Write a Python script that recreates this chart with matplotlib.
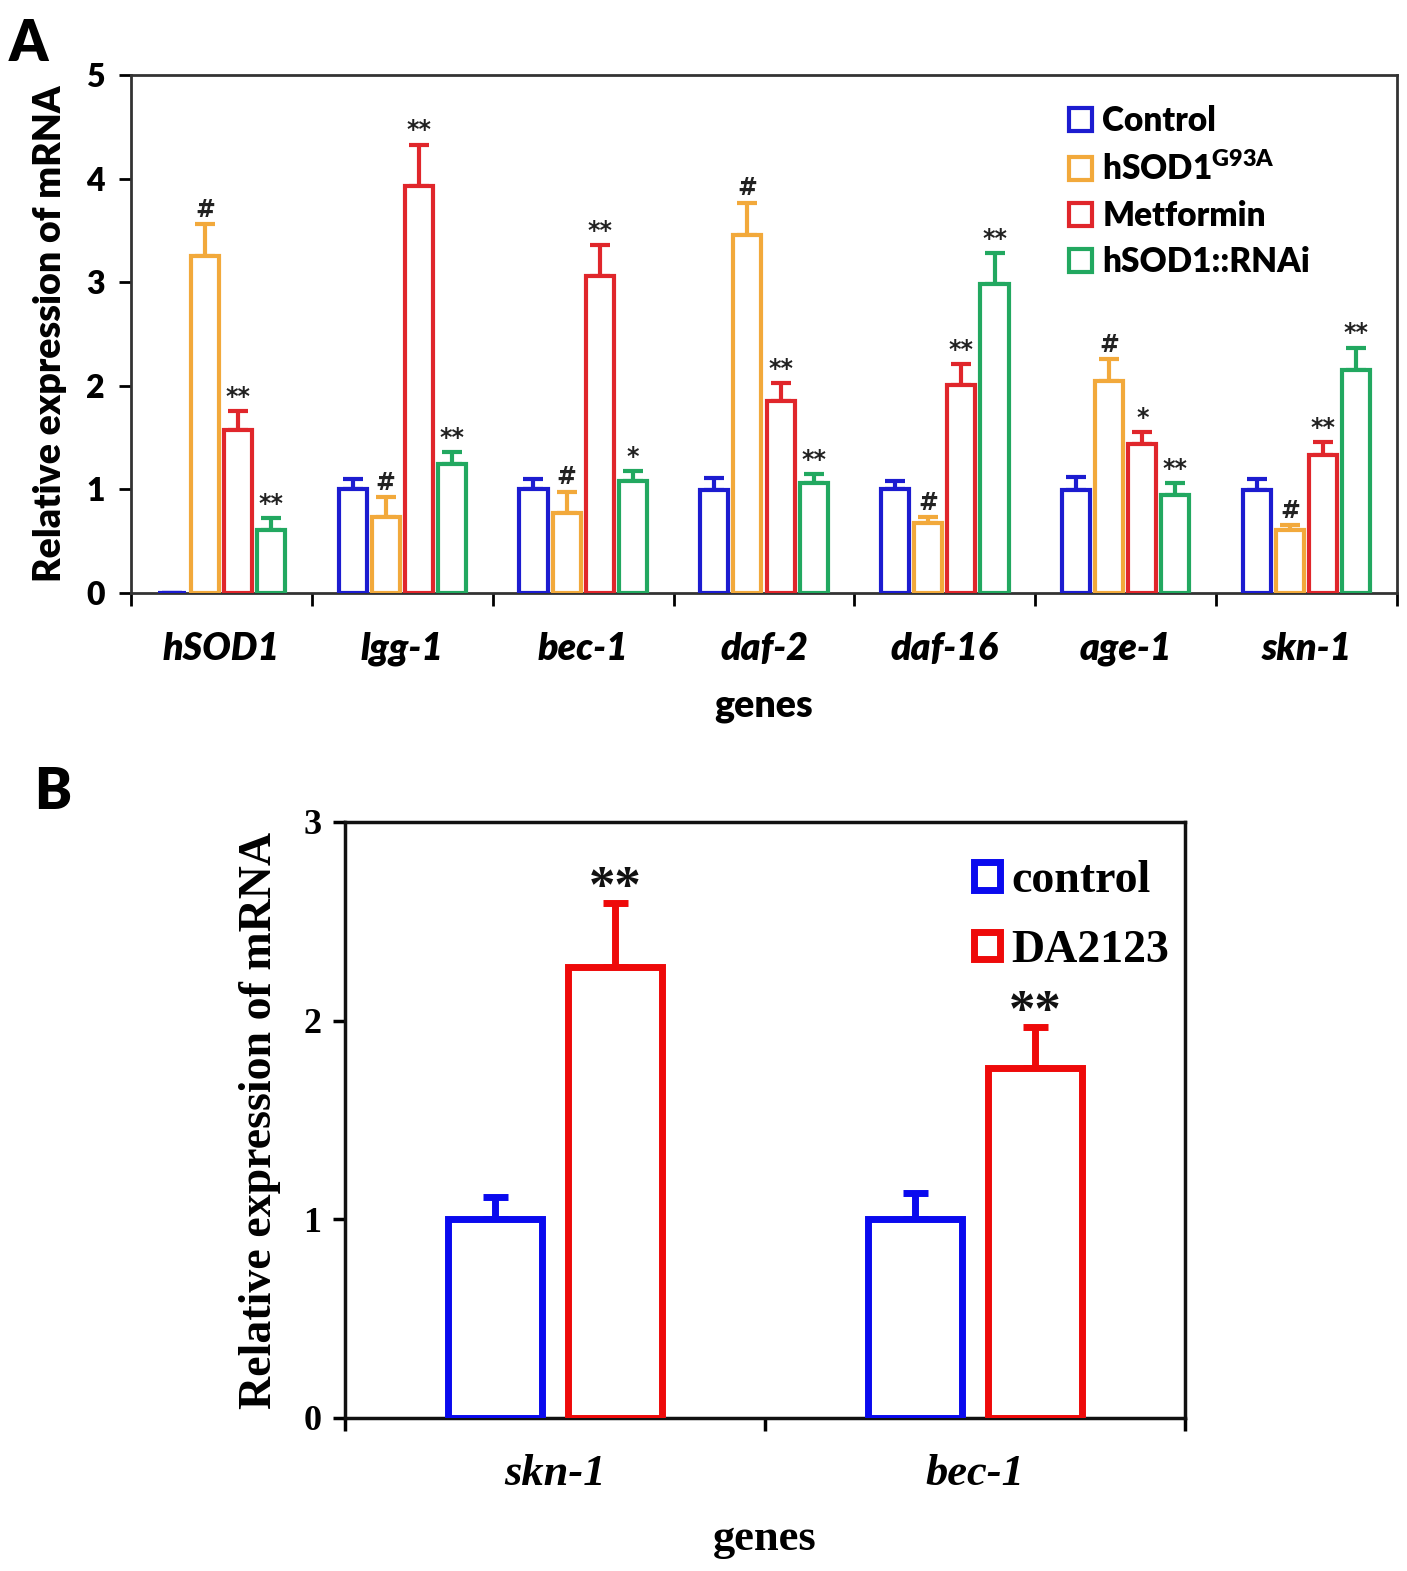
import numpy as np
import matplotlib.pyplot as plt

# Panel A data
genes_a = ["hSOD1", "lgg-1", "bec-1", "daf-2", "daf-16", "age-1", "skn-1"]
groups_a = ["Control", "hSOD1$^{\\mathregular{G93A}}$", "Metformin", "hSOD1::RNAi"]
control = [0.0, 1.00, 1.00, 0.99, 1.00, 0.99, 0.99]
control_err = [0.0, 0.10, 0.10, 0.12, 0.08, 0.13, 0.11]
g93a = [3.25, 0.73, 0.77, 3.46, 0.68, 2.05, 0.61]
g93a_err = [0.31, 0.20, 0.21, 0.31, 0.05, 0.21, 0.05]
metformin = [1.57, 3.93, 3.06, 1.85, 2.01, 1.44, 1.33]
metformin_err = [0.19, 0.40, 0.30, 0.18, 0.20, 0.11, 0.13]
rnai = [0.61, 1.25, 1.08, 1.06, 2.98, 0.95, 2.15]
rnai_err = [0.11, 0.11, 0.10, 0.09, 0.30, 0.11, 0.22]
sig_g93a = ["#", "#", "#", "#", "#", "#", "#"]
sig_met = ["**", "**", "**", "**", "**", "*", "**"]
sig_rnai = ["**", "**", "*", "**", "**", "**", "**"]
colors_a = ["#1c1cd0", "#f2a93b", "#e0262b", "#22a860"]

# Panel B data
genes_b = ["skn-1", "bec-1"]
groups_b = ["control", "DA2123"]
b_control = [1.00, 1.00]
b_control_err = [0.11, 0.13]
b_da = [2.27, 1.76]
b_da_err = [0.32, 0.21]
sig_b = ["**", "**"]
colors_b = ["#0a0aee", "#ee0a0a"]

fig = plt.figure(figsize=(14.07, 15.71), dpi=100)

# ---------------- Panel A ----------------
sans = "Lato"
ax = fig.add_axes([0.0931, 0.6225, 0.8998, 0.3297])
x = np.arange(len(genes_a))
w = 0.155
step = 0.183
series = [(control, control_err, None), (g93a, g93a_err, sig_g93a),
          (metformin, metformin_err, sig_met), (rnai, rnai_err, sig_rnai)]
for i, (vals, errs, sig) in enumerate(series):
    xs = x + (i - 1.5) * step
    ax.bar(xs, vals, w, facecolor="white", edgecolor=colors_a[i], linewidth=3,
           label=groups_a[i], zorder=3)
    ax.errorbar(xs, vals, yerr=[np.zeros(len(vals)), errs], fmt="none",
                ecolor=colors_a[i], elinewidth=3, capsize=7, capthick=3, zorder=2)
    if sig is not None:
        for xi, v, e, s in zip(xs, vals, errs, sig):
            ax.text(xi, v + e + 0.02, s, ha="center", va="bottom",
                    fontsize=17, fontweight="bold", color="#222222")

ax.set_xlim(-0.5, 6.5)
ax.set_ylim(0, 5)
ax.set_yticks(range(6))
ax.set_yticklabels([str(v) for v in range(6)], fontsize=23, fontweight="heavy",
                   family=sans)
ax.set_xticks(x)
ax.set_xticklabels(genes_a, fontsize=27, fontweight="heavy", style="italic",
                   family=sans)
ax.set_xticks(np.arange(-0.5, 7, 1), minor=True)
ax.tick_params(axis="x", which="major", length=0, pad=28)
ax.tick_params(axis="x", which="minor", length=9, width=2, direction="out")
ax.tick_params(axis="y", length=9, width=2, direction="out", pad=10)
for sp in ax.spines.values():
    sp.set_linewidth(2)
    sp.set_color("#333333")
ax.set_ylabel("Relative expression of mRNA", fontsize=27, fontweight="heavy",
              family=sans, labelpad=14)
ax.set_xlabel("genes", fontsize=27, fontweight="heavy", family=sans, labelpad=16)
leg = ax.legend(loc="upper right", bbox_to_anchor=(0.955, 1.0), frameon=False,
                prop={"family": sans, "weight": "heavy", "size": 24},
                handlelength=0.7, handleheight=0.7, handletextpad=0.3,
                labelspacing=0.42)
fig.text(0.006, 0.961, "A", fontsize=40, fontweight="heavy", family=sans)

# ---------------- Panel B ----------------
serif = "Liberation Serif"
bx = fig.add_axes([0.2452, 0.0974, 0.597, 0.3794])
xb = np.arange(len(genes_b))
wb = 0.225
offb = 0.143
for i, (vals, errs) in enumerate([(b_control, b_control_err), (b_da, b_da_err)]):
    xs = xb + (2 * i - 1) * offb
    bx.bar(xs, vals, wb, facecolor="white", edgecolor=colors_b[i], linewidth=5,
           label=groups_b[i], zorder=3)
    bx.errorbar(xs, vals, yerr=[np.zeros(len(vals)), errs], fmt="none",
                ecolor=colors_b[i], elinewidth=5, capsize=9, capthick=5, zorder=2)
    if i == 1:
        for xi, v, e, s in zip(xs, vals, errs, sig_b):
            bx.text(xi, v + e - 0.05, s, ha="center", va="bottom",
                    fontsize=38, fontweight="bold", family=serif, color="#111111")

bx.set_xlim(-0.5, 1.5)
bx.set_ylim(0, 3)
bx.set_yticks(range(4))
bx.set_yticklabels([str(v) for v in range(4)], fontsize=26, fontweight="bold",
                   family=serif)
bx.set_xticks(xb)
bx.set_xticklabels(genes_b, fontsize=32, fontweight="bold", style="italic",
                   family=serif)
bx.set_xticks([-0.5, 0.5, 1.5], minor=True)
bx.tick_params(axis="x", which="major", length=0, pad=26)
bx.tick_params(axis="x", which="minor", length=9, width=2.5, direction="out")
bx.tick_params(axis="y", length=9, width=2.5, direction="out", pad=8)
for sp in bx.spines.values():
    sp.set_linewidth(2.5)
    sp.set_color("#111111")
bx.set_ylabel("Relative expression of mRNA", fontsize=33, fontweight="bold",
              family=serif, labelpad=16)
bx.set_xlabel("genes", fontsize=32, fontweight="bold", family=serif, labelpad=18)
bx.legend(loc="upper right", bbox_to_anchor=(1.03, 1.005), frameon=False,
          prop={"family": serif, "weight": "bold", "size": 33},
          handlelength=0.55, handleheight=0.55, handletextpad=0.25,
          labelspacing=0.6)
fig.text(0.024, 0.485, "B", fontsize=40, fontweight="heavy", family=sans)

fig.savefig("out.png", dpi=100, facecolor="white")
